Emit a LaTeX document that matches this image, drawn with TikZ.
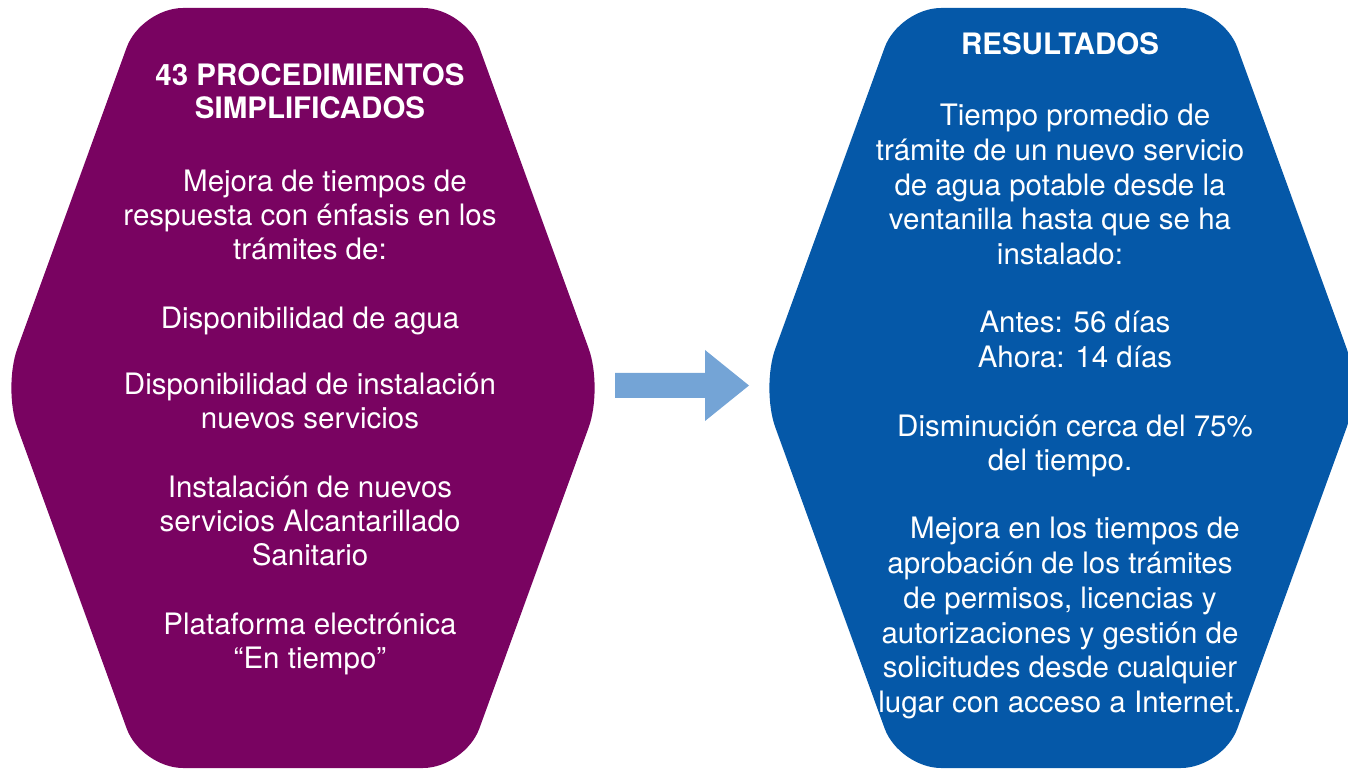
\documentclass[tikz,border=0pt]{standalone}
\usepackage{fontspec}
\setmainfont{TeX Gyre Heros}
\usetikzlibrary{calc}
\usetikzlibrary{positioning}
\definecolor{plum}{RGB}{121,3,97}
\definecolor{royal}{RGB}{5,88,168}
\definecolor{sky}{RGB}{116,164,214}

\begin{document}
\begin{tikzpicture}[
		x=1pt,y=1pt,
		hexagon/.pic={
			\coordinate (-west) at (-300,0);
			\coordinate (-east) at (300,0);
			\fill [pic actions,rounded corners=42pt] (-162,380) -- (162,380) -- (300,0) -- (162,-380) -- (-162,-380) -- (-300,0) --cycle;
		},
		blockarrow/.pic={
			\coordinate (-tail) at (0,0);
			\coordinate (-tip) at (134,0);
			\fill [pic actions] (0,-12.5) -- (90,-12.5) -- (90,-35.5) -- (-tip) -- (90,35.5) -- (90,12.5) -- (0,12.5) --cycle;
		},
		heading/.style={text=white,align=center,inner sep=0,font=\bfseries\fontsize{29.5}{33}\selectfont},
		body/.style={text=white,align=center,inner sep=0,font=\fontsize{29.5}{34}\selectfont}
	]
	\useasboundingbox (0,0) rectangle (1348,769);
	\clip (0,0) rectangle (1348,769);

	\pic [fill=plum] (lhex) at (303,381) {hexagon};
	\pic [fill=royal] (rhex) at (1061,381) {hexagon};
	\pic [fill=sky] (arr) at (615,383.5) {blockarrow};

	\node [heading] (ltitle) at (310,677.5) {43 PROCEDIMIENTOS\\SIMPLIFICADOS};
	\node [body] (lbody) at (310,346.5) {\hspace*{30pt}Mejora de tiempos de\\
		respuesta con énfasis en los\\
		trámites de:\\[35pt]
		Disponibilidad de agua\\[32pt]
		Disponibilidad de instalación\\
		nuevos servicios\\[35pt]
		Instalación de nuevos\\
		servicios Alcantarillado\\
		Sanitario\\[35pt]
		Plataforma electrónica\\
		“En tiempo”};

	\node [heading] (rtitle) at (1060,725) {RESULTADOS};
	\node [body,font=\fontsize{29.5}{34.8}\selectfont] (rbody) at (1060,357.5) {\hspace*{30pt}Tiempo promedio de\\
		trámite de un nuevo servicio\\
		de agua potable desde la\\
		ventanilla hasta que se ha\\
		instalado:\\[33pt]
		\hspace*{30pt}Antes: 56 días\\
		\hspace*{30pt}Ahora: 14 días\\[34pt]
		\hspace*{30pt}Disminución cerca del 75\%\\
		del tiempo.\\[33pt]
		\hspace*{30pt}Mejora en los tiempos de\\
		aprobación de los trámites\\
		de permisos, licencias y\hspace*{16pt}\\
		autorizaciones y gestión de\\
		solicitudes desde cualquier\\
		lugar con acceso a Internet.};
\end{tikzpicture}
\end{document}
